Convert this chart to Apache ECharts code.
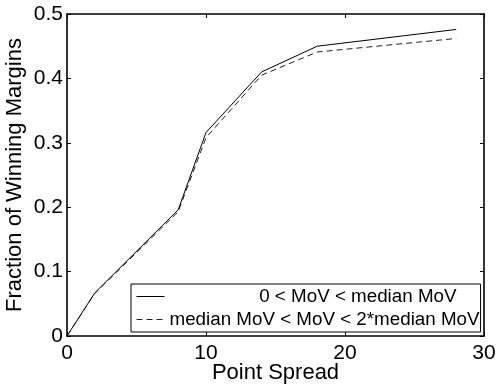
<!DOCTYPE html>
<html>
<head>
<meta charset="utf-8">
<script src="https://cdn.jsdelivr.net/npm/echarts@6/dist/echarts.min.js"></script>
<style>
  html, body { margin: 0; padding: 0; background: #fff; }
  #chart { width: 496px; height: 390px; }
</style>
</head>
<body>
<div id="chart"></div>
<script>
const spread = [0, 2, 8, 10, 14, 18, 28];
const belowMedian = [0, 0.067, 0.196, 0.316, 0.410, 0.450, 0.476];
const aboveMedian = [0, 0.066, 0.193, 0.308, 0.405, 0.441, 0.462];
const seriesNames = ["0 < MoV < median MoV", "median MoV < MoV < 2*median MoV"];

const font = "Liberation Sans, Arial, sans-serif";
const pairs = (ys) => spread.map((x, i) => [x, ys[i]]);

const chart = echarts.init(document.getElementById("chart"), null, { renderer: "canvas" });

const axisBase = {
  nameMoveOverlap: false,
  axisLine: { show: true, onZero: false, lineStyle: { color: "#000", width: 1.6 } },
  axisTick: { show: true, inside: true, length: 4, lineStyle: { color: "#000", width: 1 } },
  splitLine: { show: false }
};

chart.setOption({
  animation: false,
  grid: { left: 67, right: 12, top: 14, bottom: 54, containLabel: false, outerBoundsMode: "none" },
  xAxis: [
    Object.assign({}, axisBase, {
      type: "value", min: 0, max: 30, interval: 10, position: "bottom",
      name: "Point Spread", nameLocation: "middle", nameGap: 26,
      nameTextStyle: { fontFamily: font, fontSize: 22, color: "#000" },
      axisLabel: { fontFamily: font, fontSize: 21, color: "#000", margin: 7 }
    }),
    Object.assign({}, axisBase, {
      type: "value", min: 0, max: 30, interval: 10, position: "top",
      axisLabel: { show: false }
    })
  ],
  yAxis: [
    Object.assign({}, axisBase, {
      type: "value", min: 0, max: 0.5, interval: 0.1, position: "left",
      name: "Fraction of Winning Margins", nameLocation: "middle", nameGap: 41,
      nameTextStyle: { fontFamily: font, fontSize: 22, color: "#000" },
      axisLabel: { fontFamily: font, fontSize: 21, color: "#000", margin: 4 }
    }),
    Object.assign({}, axisBase, {
      type: "value", min: 0, max: 0.5, interval: 0.1, position: "right",
      axisLabel: { show: false }
    })
  ],
  legend: {
    orient: "vertical",
    left: 131, top: 284,
    itemWidth: 28, itemHeight: 14, itemGap: 4,
    padding: [3, 1, 3, 5],
    backgroundColor: "#fff",
    borderColor: "#000", borderWidth: 1, borderRadius: 0,
    itemStyle: { opacity: 0 },
    lineStyle: { width: 1 },
    textStyle: {
      fontFamily: font, fontSize: 18.8, color: "#000",
      rich: { first: { fontFamily: font, fontSize: 18.8, color: "#000", width: 287, align: "right" } }
    },
    formatter: (name) => name === seriesNames[0] ? "{first|" + name + "}" : name,
    data: seriesNames
  },
  series: [
    {
      type: "line", name: seriesNames[0], data: pairs(belowMedian),
      symbol: "none", lineStyle: { color: "#000", width: 1 }, itemStyle: { color: "#000" }
    },
    {
      type: "line", name: seriesNames[1], data: pairs(aboveMedian),
      symbol: "none", lineStyle: { color: "#222", width: 1, type: [6, 4] }, itemStyle: { color: "#222" }
    }
  ]
});
</script>
</body>
</html>
